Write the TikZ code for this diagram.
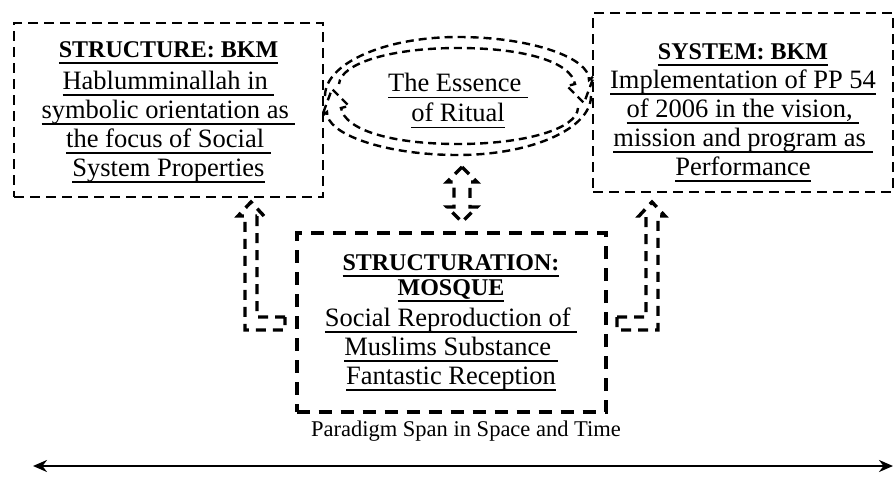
\documentclass[tikz,border=0pt]{standalone}
\usepackage{fontspec}
\setmainfont{Liberation Serif}
\usetikzlibrary{arrows.meta}
\newcommand\lineul[1]{\setbox0\hbox{#1}\leavevmode\rlap{\rule[-6.5pt]{\wd0}{1.7pt}}\box0}
\newcommand\headfont{\fontsize{24}{29}\selectfont\bfseries}
\begin{document}
\begin{tikzpicture}[x=1pt,y=-1pt,
  every node/.style={inner sep=0pt, align=center, font=\fontsize{26.5}{29}\selectfont},
  sidebox/.style={draw, line width=2.4pt, dash pattern=on 10pt off 6pt},
  midbox/.style={draw, line width=4pt, dash pattern=on 13pt off 9pt},
  ring/.style={line width=2.4pt, dash pattern=on 8pt off 5pt},
  blockarrow/.style={line width=3.4pt, dash pattern=on 10pt off 7pt, line join=miter},
  span/.style={line width=2.6pt, {Stealth[length=14pt,width=12pt]}-{Stealth[length=14pt,width=12pt]}}]
\useasboundingbox (0,0) rectangle (895,479);
% boxes
\node[sidebox, minimum width=309pt, minimum height=174pt] (structure) at (168.5,110)
  {\rule{0pt}{20pt}\lineul{\headfont STRUCTURE: BKM}\\[3pt]
   \lineul{Hablumminallah in~}\\
   \lineul{symbolic orientation as~}\\
   \lineul{the focus of Social~}\\
   \lineul{System Properties}};
\node[sidebox, minimum width=300pt, minimum height=179pt] (system) at (743,102.5)
  {\fontsize{26.5}{26.5}\selectfont
   \rule{0pt}{36pt}\lineul{\headfont SYSTEM: BKM}\\[0pt]
   \lineul{Implementation of PP 54}\\
   \lineul{of 2006 in the vision,~}\\
   \lineul{mission and program as~}\\
   \lineul{Performance}};
\node[midbox, minimum width=309pt, minimum height=179pt] (structuration) at (451,322.5)
  {\lineul{\headfont STRUCTURATION:}\\[-4pt]
   \lineul{\headfont MOSQUE}\\[2pt]
   \lineul{Social Reproduction of~}\\
   \lineul{Muslims Substance~}\\
   \lineul{Fantastic Reception}};
\node (ritual) at (458,101) {\lineul{The Essence~}\\[1pt]\lineul{of Ritual}};
% cycle round the essence
\draw[ring] (325,96) .. controls (325,63.4) and (384.5,37) .. (458,37)
  .. controls (531.5,37) and (590,58) .. (589,80)
  -- (594,76) -- (584,103) -- (567,86) -- (575,84)
  .. controls (571,62) and (524.8,48) .. (458,48)
  .. controls (391.2,48) and (341,63) .. (339,84);
\draw[ring] (591,96) .. controls (591,128.6) and (531.5,155) .. (458,155)
  .. controls (384.5,155) and (326,134) .. (327,112)
  -- (322,116) -- (332,89) -- (349,106) -- (341,108)
  .. controls (345,130) and (391.2,144) .. (458,144)
  .. controls (524.8,144) and (577,129) .. (578,108);
% links
\draw[blockarrow] (462,167) -- (477,182) -- (470,182) -- (470,207) -- (477,207) -- (462,222)
  -- (447,207) -- (454,207) -- (454,182) -- (447,182) -- cycle;
\draw[blockarrow] (285,317) -- (257,317) -- (257,216) -- (264,216) -- (251,202) -- (238,216)
  -- (245,216) -- (245,330) -- (285,330) -- cycle;
\draw[blockarrow] (617,317) -- (646,317) -- (646,216) -- (639,216) -- (652,202) -- (665,216)
  -- (658,216) -- (658,330) -- (617,330) -- cycle;
% span
\coordinate (spanL) at (33,466);
\coordinate (spanR) at (893,466);
\draw[span] (spanL) -- (spanR);
\node[font=\fontsize{22.5}{24}\selectfont] (spanlabel) at (466,431) {Paradigm Span in Space and Time};
\end{tikzpicture}
\end{document}
